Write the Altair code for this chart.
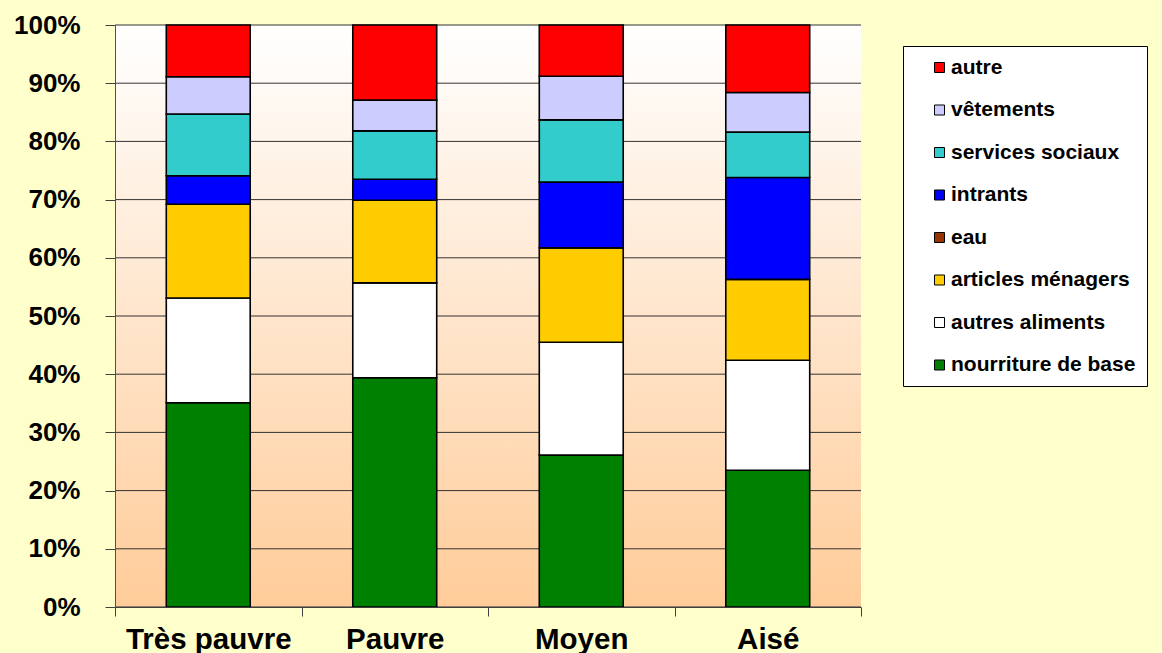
import altair as alt
import pandas as pd

# Household groups along the x axis
groupes = ["Très pauvre", "Pauvre", "Moyen", "Aisé"]

# Expense items, bottom of the stack first
postes = [
    "nourriture de base",
    "autres aliments",
    "articles ménagers",
    "eau",
    "intrants",
    "services sociaux",
    "vêtements",
    "autre",
]
couleurs = ["#008000", "#FFFFFF", "#FFCC00", "#993300", "#0000FF", "#33CCCC", "#CCCCFF", "#FF0000"]

# Share of spending (%) per item, in the order of `postes`
tres_pauvre = [35.1, 18.0, 16.1, 0.0, 4.9, 10.6, 6.4, 8.9]
pauvre = [39.4, 16.3, 14.2, 0.0, 3.6, 8.3, 5.3, 12.9]
moyen = [26.1, 19.4, 16.2, 0.0, 11.3, 10.7, 7.5, 8.8]
aise = [23.5, 18.9, 13.9, 0.0, 17.5, 7.8, 6.8, 11.6]

y_ticks = list(range(0, 101, 10))

rows = []
for g, parts in zip(groupes, [tres_pauvre, pauvre, moyen, aise]):
    for rang, (poste, part) in enumerate(zip(postes, parts)):
        rows.append({"groupe": g, "poste": poste, "rang": rang, "part": part})
df = pd.DataFrame(rows)
grid_df = pd.DataFrame({"niveau": y_ticks})

# Legend lists the items top of the stack first
legende_postes = postes[::-1]
legende_couleurs = couleurs[::-1]

FONT = "Liberation Sans"

y_scale = alt.Scale(domain=[0, 100], nice=False)

# Plot-area backdrop: white at the top fading to peach at the bottom
fond = (
    alt.Chart(grid_df)
    .transform_filter("datum.niveau == 0")
    .mark_rect(
        color=alt.LinearGradient(
            gradient="linear",
            x1=0, y1=0, x2=0, y2=1,
            stops=[
                alt.GradientStop(offset=0, color="#FFFFFF"),
                alt.GradientStop(offset=1, color="#FFCC99"),
            ],
        )
    )
    .encode(
        x=alt.value(0),
        x2=alt.value("width"),
        y=alt.datum(100, scale=y_scale),
        y2=alt.datum(0),
    )
)

# Horizontal gridlines at every 10 %
grille = (
    alt.Chart(grid_df)
    .mark_rule(color="#333333", strokeWidth=1)
    .encode(
        y=alt.Y("niveau:Q", scale=y_scale),
        x=alt.value(0),
        x2=alt.value("width"),
    )
)

bars = (
    alt.Chart(df)
    .transform_filter("datum.part > 0")
    .mark_bar(stroke="black", strokeWidth=1.6, width=alt.RelativeBandSize(0.45))
    .encode(
        x=alt.X(
            "groupe:N",
            sort=groupes,
            scale=alt.Scale(paddingInner=0, paddingOuter=0),
            axis=alt.Axis(
                title=None,
                labelAngle=0,
                tickBand="extent",
                labelFont=FONT,
                labelFontSize=29.5,
                labelFontWeight="bold",
                labelColor="black",
                labelPadding=9,
                tickSize=9,
                tickColor="#404040",
                domainColor="#404040",
                grid=False,
                zindex=1,
            ),
        ),
        y=alt.Y(
            "part:Q",
            stack="zero",
            scale=y_scale,
            axis=alt.Axis(
                title=None,
                values=y_ticks,
                labelExpr="datum.value + '%'",
                labelFont=FONT,
                labelFontSize=26,
                labelFontWeight="bold",
                labelColor="black",
                labelPadding=25,
                tickSize=10,
                tickColor="#404040",
                domainColor="#505050",
                grid=False,
                zindex=1,
            ),
        ),
        color=alt.Color(
            "poste:N",
            scale=alt.Scale(domain=legende_postes, range=legende_couleurs),
            legend=alt.Legend(
                title=None,
                orient="none",
                legendX=788,
                legendY=21,
                fillColor="white",
                strokeColor="black",
                padding=11,
                symbolOffset=15,
                symbolType="square",
                symbolSize=100,
                symbolStrokeColor="black",
                symbolStrokeWidth=1,
                labelFont=FONT,
                labelFontSize=21,
                labelFontWeight="bold",
                labelColor="black",
                labelOffset=1,
                labelLimit=400,
                rowPadding=20.5,
            ),
        ),
        order=alt.Order("rang:Q", sort="ascending"),
    )
)

chart = (
    alt.layer(fond, grille, bars)
    .properties(
        width=746,
        height=582,
        autosize=alt.AutoSizeParams(type="none"),
        padding={"left": 115, "top": 25, "right": 301, "bottom": 46},
        background="#FFFFCC",
    )
    .configure_view(stroke=None)
)

chart.save("out.html", embed_options={"renderer": "svg", "actions": False})
